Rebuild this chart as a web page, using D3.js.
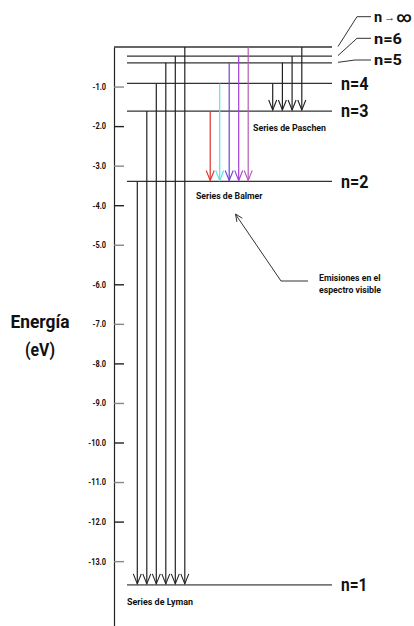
<!DOCTYPE html>
<html>
<head>
<meta charset="utf-8">
<script src="https://cdn.jsdelivr.net/npm/d3@7"></script>
<style>
  html, body { margin: 0; padding: 0; background: #fff; }
  svg { display: block; }
  text { font-family: Roboto, "Liberation Sans", sans-serif; font-weight: bold; fill: #111; }
</style>
</head>
<body>
<svg id="chart" width="414" height="626"></svg>
<script>
// ---- data ----
const tickValues = [-1, -2, -3, -4, -5, -6, -7, -8, -9, -10, -11, -12, -13];
const tickLabels = ["-1.0", "-2.0", "-3.0", "-4.0", "-5.0", "-6.0", "-7.0", "-8.0", "-9.0", "-10.0", "-11.0", "-12.0", "-13.0"];
const levelNames = ["∞", "6", "5", "4", "3", "2", "1"];
const levelEnergies = [0, -0.23, -0.40, -0.92, -1.62, -3.40, -13.60];
const lymanFrom = ["2", "3", "4", "5", "6", "∞"];
const balmerFrom = ["3", "4", "5", "6", "∞"];
const paschenFrom = ["4", "5", "6", "∞"];
const balmerColors = ["#e0312c", "#5ae3ea", "#6a44d8", "#a040dc", "#b45cb4"];
const seriesNames = ["Series de Lyman", "Series de Balmer", "Series de Paschen"];
const axisTitle = ["Energía", "(eV)"];
const noteLines = ["Emisiones en el", "espectro visible"];

// ---- layout ----
const svg = d3.select("#chart");
const axisX = 114, lineX0 = 127, lineX1 = 332;
const y = d3.scaleLinear().domain([0, -14.65]).range([47, 626.4]);
const E = {};
levelNames.forEach((n, i) => E[n] = levelEnergies[i]);

// condense a text element to a given width (the original uses a condensed face)
function fit(sel, w) {
  sel.attr("textLength", w).attr("lengthAdjust", "spacingAndGlyphs");
  return sel;
}
function squeeze(sel, f) {
  sel.each(function () {
    const n = this.getComputedTextLength();
    d3.select(this).attr("textLength", n * f).attr("lengthAdjust", "spacingAndGlyphs");
  });
}

// axis
const axis = d3.axisLeft(y)
  .tickValues(tickValues)
  .tickFormat((d, i) => tickLabels[i])
  .tickSizeInner(-10)
  .tickSizeOuter(0)
  .tickPadding(8);
const gA = svg.append("g").attr("transform", `translate(${axisX},0)`).call(axis);
gA.select(".domain").attr("stroke", "#222").attr("stroke-width", 1.2);
gA.selectAll(".tick line").attr("stroke", (d, i) => i % 2 === 0 ? "#888" : "#222").attr("stroke-width", 1.4);
const tickTexts = gA.selectAll(".tick text").attr("font-size", 9).attr("fill", "#222")
  .style("font-family", "Roboto, sans-serif").style("font-weight", "bold");
squeeze(tickTexts, 0.82);

// axis title
const t1 = svg.append("text").attr("text-anchor", "middle").attr("font-size", 18.5).attr("x", 40).attr("y", 328).text(axisTitle[0]);
fit(t1, 59);
const t2 = svg.append("text").attr("text-anchor", "middle").attr("font-size", 18.5).attr("x", 40).attr("y", 356).text(axisTitle[1]);
fit(t2, 30);

// energy levels
svg.selectAll("line.level").data(levelNames).enter().append("line")
  .attr("class", "level")
  .attr("x1", d => d === "∞" ? axisX : lineX0)
  .attr("x2", lineX1)
  .attr("y1", d => y(E[d])).attr("y2", d => y(E[d]))
  .attr("stroke", d => d === "1" ? "#777" : "#333")
  .attr("stroke-width", d => d === "1" ? 1.8 : 1.3);

// level labels (big)
["4", "3", "2", "1"].forEach(n => {
  const t = svg.append("text").attr("x", 341).attr("y", y(E[n])).attr("dy", "0.36em")
    .attr("font-size", 17.5).text("n=" + n);
  fit(t, n === "1" ? 26.5 : 27.5);
});

// level labels with leaders (small)
const leaderDefs = [
  { n: "5", ly: 60, bend: 355 },
  { n: "6", ly: 38.3, bend: 357 },
  { n: "∞", ly: 16.7, bend: 357 }
];
leaderDefs.forEach(d => {
  const y0 = y(E[d.n]);
  svg.append("path")
    .attr("d", `M338,${y0 - 0.5} L${d.bend},${d.ly} L371,${d.ly}`)
    .attr("fill", "none").attr("stroke", "#333").attr("stroke-width", 1);
  const t = svg.append("text").attr("x", 374).attr("y", d.ly).attr("dy", "0.36em").attr("font-size", 14.5);
  if (d.n === "∞") {
    t.append("tspan").text("n");
    t.append("tspan").attr("font-size", 11).attr("font-weight", "normal").attr("dx", 2).attr("dy", "-0.05em").text("→");
    t.append("tspan").attr("dx", 1).attr("dy", "0.05em").text("∞");
    fit(t, 37.5);
  } else {
    t.text("n=" + d.n);
    fit(t, 28);
  }
});

// transitions
function vHead(x, yt) {
  return `M${x - 4},${yt - 10} L${x},${yt} L${x + 4},${yt - 10}`;
}
function drawSeries(fromList, to, xStart, step, colorFn) {
  const xs = d3.scalePoint().domain(fromList).range([xStart, xStart + step * (fromList.length - 1)]);
  const g = svg.append("g");
  fromList.forEach((f, i) => {
    const x = xs(f), y0 = y(E[f]), y1 = y(E[to]) - 1;
    const c = colorFn(i);
    g.append("line").attr("x1", x).attr("x2", x).attr("y1", y0).attr("y2", y1)
      .attr("stroke", c).attr("stroke-width", 1.2);
    g.append("path").attr("d", vHead(x, y1)).attr("fill", "none").attr("stroke", c).attr("stroke-width", 1.1);
  });
}
drawSeries(lymanFrom, "1", 137.3, 9.5, () => "#222");
drawSeries(balmerFrom, "2", 210.2, 9.5, i => balmerColors[i]);
drawSeries(paschenFrom, "3", 272.7, 9.7, () => "#222");

// series labels
fit(svg.append("text").attr("x", 127).attr("y", 605).attr("font-size", 9.5).text(seriesNames[0]), 66);
fit(svg.append("text").attr("x", 196).attr("y", 199).attr("font-size", 9.5).text(seriesNames[1]), 66.5);
fit(svg.append("text").attr("x", 253).attr("y", 130.5).attr("font-size", 9.5).text(seriesNames[2]), 73);

// annotation
svg.append("path").attr("d", "M308,281 L281,281 L236,215")
  .attr("fill", "none").attr("stroke", "#333").attr("stroke-width", 1);
(function () {
  const tip = [235.5, 214], ang = Math.atan2(281 - 214, 281 - 235.5);
  const L = 8, w = 0.42;
  const a1 = [tip[0] + L * Math.cos(ang + w), tip[1] + L * Math.sin(ang + w)];
  const a2 = [tip[0] + L * Math.cos(ang - w), tip[1] + L * Math.sin(ang - w)];
  svg.append("path").attr("d", `M${a1[0]},${a1[1]} L${tip[0]},${tip[1]} L${a2[0]},${a2[1]}`)
    .attr("fill", "none").attr("stroke", "#333").attr("stroke-width", 1);
})();
fit(svg.append("text").attr("font-size", 9.5).attr("x", 319).attr("y", 280.5).text(noteLines[0]), 61.5);
fit(svg.append("text").attr("font-size", 9.5).attr("x", 319).attr("y", 293).text(noteLines[1]), 62);
</script>
</body>
</html>
